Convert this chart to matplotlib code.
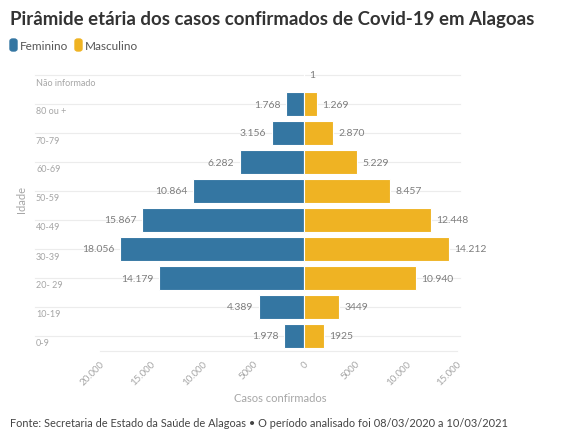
import matplotlib.pyplot as plt
from matplotlib.patches import FancyBboxPatch
from matplotlib.lines import Line2D

plt.rcParams['font.family'] = ['Lato', 'DejaVu Sans']

ages = ['Não informado', '80 ou +', '70-79', '60-69', '50-59', '40-49',
        '30-39', '20- 29', '10-19', '0-9']
feminino = [0, 1768, 3156, 6282, 10864, 15867, 18056, 14179, 4389, 1978]
masculino = [1, 1269, 2870, 5229, 8457, 12448, 14212, 10940, 3449, 1925]
fem_labels = ['', '1.768', '3.156', '6.282', '10.864', '15.867', '18.056',
              '14.179', '4.389', '1.978']
mas_labels = ['1', '1.269', '2.870', '5.229', '8.457', '12.448', '14.212',
              '10.940', '3449', '1925']
xticks = [-20000, -15000, -10000, -5000, 0, 5000, 10000, 15000]
xtick_labels = ['20.000', '15.000', '10.000', '5000', '0', '5000', '10.000', '15.000']

blue = '#3476a2'
yellow = '#efb323'
grey_txt = '#a6a6a6'
val_txt = '#7d7d7d'

W, H = 561, 431
fig = plt.figure(figsize=(W / 100, H / 100), dpi=100)

# axes placement in pixels
left_px, right_px = 100, 457
top_px, bot_px = 61.5, 351.5
ax = fig.add_axes([left_px / W, 1 - bot_px / H, (right_px - left_px) / W, (bot_px - top_px) / H])

y = list(range(len(ages)))
for yi in y:
    fig.add_artist(Line2D([35 / W, 460 / W], [1 - (top_px + 14.5 + 29 * yi) / H] * 2,
                          color='#ececec', lw=0.8, zorder=0))

ax.barh(y, [-v for v in feminino], height=0.83, color=blue, edgecolor='white', linewidth=0.8, zorder=2)
ax.barh(y, masculino, height=0.83, color=yellow, edgecolor='white', linewidth=0.8, zorder=2)

for yi, v, lab in zip(y, feminino, fem_labels):
    if lab:
        ax.annotate(lab, (-v, yi), xytext=(-4, 0), textcoords='offset points',
                    ha='right', va='center', fontsize=7.5, color=val_txt)
for yi, v, lab in zip(y, masculino, mas_labels):
    ax.annotate(lab, (v, yi), xytext=(4, 0), textcoords='offset points',
                ha='left', va='center', fontsize=7.5, color=val_txt)

ax.set_xlim(-20000, 15000)
ax.set_ylim(9.5, -0.5)
ax.set_xticks(xticks)
ax.set_xticklabels(xtick_labels, rotation=45, ha='right', va='top',
                   rotation_mode='anchor', fontsize=7, color=grey_txt)
ax.tick_params(axis='x', length=0, pad=6)
ax.set_yticks([])
for s in ['top', 'right', 'left']:
    ax.spines[s].set_visible(False)
ax.spines['bottom'].set_color('#ececec')
ax.spines['bottom'].set_linewidth(0.8)
ax.patch.set_alpha(0)

# age labels on the left
for yi, lab in zip(y, ages):
    fig.text(36 / W, 1 - (top_px + 14.5 + 29 * yi + 7) / H, lab, ha='left', va='center',
             fontsize=6.5, color=grey_txt)

fig.text(22 / W, 1 - 200 / H, 'Idade', rotation=90, ha='center', va='center',
         fontsize=8, color=grey_txt)
fig.text(280 / W, 1 - 399 / H, 'Casos confirmados', ha='center', va='center',
         fontsize=8, color=grey_txt)

fig.text(10 / W, 1 - 20 / H, 'Pirâmide etária dos casos confirmados de Covid-19 em Alagoas',
         ha='left', va='center', fontsize=13.4, fontweight='bold', color='#333333')

# legend
for x0, col, lab in [(10, blue, 'Feminino'), (75, yellow, 'Masculino')]:
    fig.add_artist(FancyBboxPatch((x0 / W, 1 - 52 / H), 7 / W, 12 / H,
                                  boxstyle='round,pad=0,rounding_size=0.005',
                                  transform=fig.transFigure, color=col))
    fig.text((x0 + 10) / W, 1 - 46 / H, lab, ha='left', va='center', fontsize=8.5, color='#555555')

fig.text(10 / W, 1 - 424 / H,
         'Fonte: Secretaria de Estado da Saúde de Alagoas • O período analisado foi 08/03/2020 a 10/03/2021',
         ha='left', va='center', fontsize=7.9, color='#444444')

fig.savefig('out.png', dpi=100)
